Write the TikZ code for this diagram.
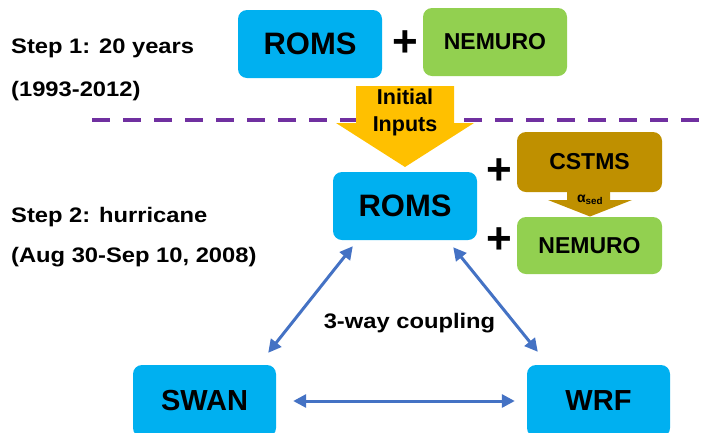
\documentclass[tikz,border=0pt]{standalone}
\usepackage{fontspec}
\setmainfont{Liberation Sans}
\newfontfamily\widefont{Liberation Sans}[FakeStretch=1.13]
\usetikzlibrary{positioning,arrows.meta}
\definecolor{oceanblue}{HTML}{00B0F0}
\definecolor{bioGreen}{HTML}{92D050}
\definecolor{inputGold}{HTML}{FFC000}
\definecolor{sedBrown}{HTML}{BF9000}
\definecolor{stepPurple}{HTML}{7030A0}
\definecolor{coupleBlue}{HTML}{4472C4}

\begin{document}
\begin{tikzpicture}[x = 1pt, y = -1pt, inner sep = 0pt,
	model/.style = {rounded corners = 9pt, font = \bfseries},
	big/.style = {font = \bfseries\fontsize{31}{31}\selectfont},
	small/.style = {font = \bfseries\fontsize{23}{23}\selectfont},
	plus/.style = {font = \bfseries\fontsize{44}{44}\selectfont},
	steplabel/.style = {anchor = base west, font = \widefont\bfseries\fontsize{21}{21}\selectfont},
	coupling/.style = {<->, >={Triangle[length = 13pt, width = 13pt]}, line width = 3pt, coupleBlue}]
	\useasboundingbox (0,0) rectangle (702,432);
	\node[model, fill = oceanblue, minimum width = 144pt, minimum height = 68pt, big] (roms1) at (310,44) {ROMS};
	\node[plus] (p1) [right = 10pt of roms1] {+};
	\node[model, fill = bioGreen, minimum width = 144pt, minimum height = 68pt, small] (nemuro1) at (495,42) {NEMURO};
	\node[steplabel] (step1) at (11,53) {Step 1: 20 years};
	\node[steplabel] (years1) at (11,96) {(1993-2012)};
	\draw[stepPurple, line width = 4.5pt, dash pattern = on 18pt off 13pt] (92,120) -- (702,120);
	\fill[inputGold] (356,86) -- (454,86) -- (454,123) -- (474,123) -- (405,167) -- (336,123) -- (356,123) -- cycle;
	\node[align = center, font = \bfseries\fontsize{21.5}{27}\selectfont] (inputs) at (405,112) {Initial\\Inputs};
	\node[model, fill = oceanblue, minimum width = 144pt, minimum height = 68pt, big] (roms2) at (405,206) {ROMS};
	\node[plus] (p2) [right = 9pt of roms2.north east] {+};
	\node[plus] (p3) [right = 9pt of roms2.south east] {+};
	\node[model, fill = sedBrown, minimum width = 145pt, minimum height = 60pt, small] (cstms) at (589.5,162) {CSTMS};
	\fill[sedBrown] (567,190) -- (610,190) -- (610,200) -- (632,200) -- (590,216.5) -- (548,200) -- (567,200) -- cycle;
	\node[model, fill = bioGreen, minimum width = 145pt, minimum height = 57pt, small] (nemuro2) at (589.5,245.5) {NEMURO};
	\node[font = \bfseries\fontsize{14}{14}\selectfont] (alpha) at (590,200) {α\textsubscript{sed}};
	\node[steplabel] (step2) at (11,222) {Step 2: hurricane};
	\node[steplabel] (dates2) at (11,262) {(Aug 30-Sep 10, 2008)};
	\node[model, fill = oceanblue, minimum width = 143pt, minimum height = 72pt, big, font = \bfseries\fontsize{29}{29}\selectfont] (swan) at (204.5,401) {SWAN};
	\node[model, fill = oceanblue, minimum width = 143pt, minimum height = 72pt, big, font = \bfseries\fontsize{29}{29}\selectfont] (wrf) at (598.5,401) {WRF};
	\node[font = \widefont\bfseries\fontsize{21}{21}\selectfont] (way) at (409.5,323) {3-way coupling};
	\draw[coupling] ([xshift = 20pt, yshift = -6pt]roms2.south west) -- ([xshift = -8pt, yshift = 12pt]swan.north east);
	\draw[coupling] ([xshift = -24pt, yshift = -7pt]roms2.south east) -- ([xshift = 11pt, yshift = 13pt]wrf.north west);
	\draw[coupling] ([xshift = 17pt]swan.east) -- ([xshift = -12pt]wrf.west);
\end{tikzpicture}
\end{document}
